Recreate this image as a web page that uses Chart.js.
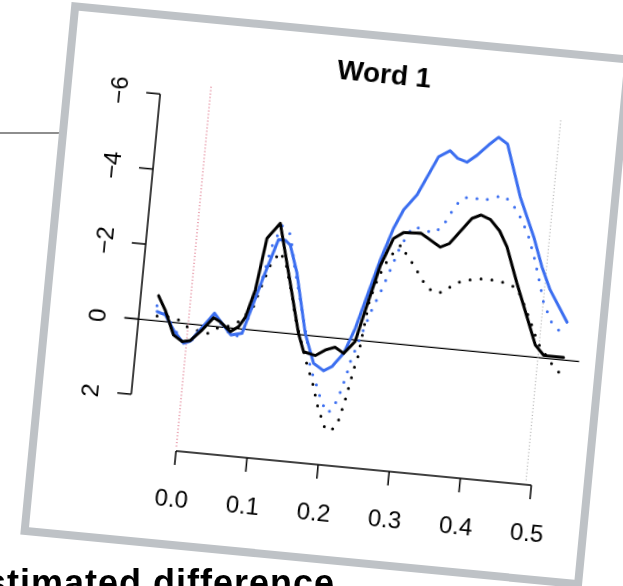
<!DOCTYPE html>
<html>
<head>
<meta charset="utf-8">
<script src="https://cdn.jsdelivr.net/npm/chart.js@4"></script>
<style>
  html, body { margin: 0; padding: 0; background: #fff; }
  body { width: 623px; height: 586px; overflow: hidden; position: relative;
         font-family: "Liberation Sans", Arial, sans-serif; }
  .rule { position: absolute; left: 0; top: 132px; width: 62px; height: 2px; background: #8e8e8e; }
  .sheet { position: absolute; left: 15.7px; top: 1px; width: 600px; height: 560px;
           transform-origin: 160px 450px; transform: rotate(5.5deg); }
  .frame { position: absolute; left: 13px; top: 13px; width: 564px; height: 535px;
           box-sizing: border-box; border: 8px solid #bec2c6; background: #fff; }
  #plot { position: absolute; left: 21px; top: 21px; }
  .caption { position: absolute; right: 288px; top: 565px; font-weight: bold; font-size: 36px;
             line-height: 36px; letter-spacing: 1px; white-space: nowrap; color: #000; }
</style>
</head>
<body>
<div class="rule"></div>
<div class="sheet">
  <div class="frame"></div>
  <canvas id="plot" width="547" height="518"></canvas>
</div>
<div class="caption">Estimated difference</div>
<script>
// Time (s) and estimated difference for each curve
const blackX = [-0.045, -0.034, -0.019, -0.006, 0.005, 0.020, 0.0346, 0.0444, 0.0597, 0.0706, 0.0787, 0.089, 0.0983, 0.1149, 0.1406, 0.155, 0.1646, 0.1815, 0.1946, 0.208, 0.2206, 0.235, 0.2437, 0.26, 0.2748, 0.288, 0.3123, 0.341, 0.3535, 0.3814, 0.3935, 0.407, 0.4216, 0.434, 0.4528, 0.4713, 0.4866, 0.4996, 0.5277];
const blackY = [-0.67, -0.31, 0.33, 0.48, 0.435, 0.125, -0.23, -0.14, 0.096, -0.056, -0.32, -1.07, -2.46, -2.89, -1.07, -0.03, 0.44, 0.51, 0.34, 0.24, 0.38, 0.04, -0.7, -2.03, -2.78, -2.96, -2.99, -2.67, -2.79, -3.51, -3.62, -3.53, -3.25, -2.85, -1.91, -1.05, -0.33, -0.08, -0.07];

const blueX = [-0.045, -0.033, -0.0196, -0.004, 0.005, 0.0353, 0.055, 0.061, 0.0762, 0.0987, 0.1146, 0.124, 0.1318, 0.1448, 0.1644, 0.18, 0.195, 0.206, 0.2206, 0.2335, 0.2592, 0.2735, 0.285, 0.3017, 0.3266, 0.342, 0.3533, 0.367, 0.38, 0.3948, 0.4077, 0.4211, 0.4458, 0.47, 0.4854, 0.5, 0.5279];
const blueY = [-0.25, -0.18, 0.2, 0.52, 0.45, -0.35, 0.06, 0.18, 0.11, -1.44, -2.46, -2.46, -2.34, -1.62, -0.05, 0.72, 0.89, 0.76, 0.38, -0.31, -2.18, -3.05, -3.56, -3.99, -5.05, -5.24, -5.06, -4.98, -5.19, -5.49, -5.72, -5.56, -4.2, -3.18, -2.41, -1.82, -1.01];

const blackDotX = [-0.0445, -0.03, -0.014, 0.0, 0.0276, 0.0397, 0.0544, 0.0686, 0.088, 0.0965, 0.1066, 0.1186, 0.128, 0.1409, 0.148, 0.17, 0.182, 0.192, 0.205, 0.2138, 0.222, 0.229, 0.2377, 0.241, 0.2496, 0.259, 0.2717, 0.281, 0.286, 0.2946, 0.3046, 0.324, 0.336, 0.3504, 0.3626, 0.3763, 0.3919, 0.4071, 0.4237, 0.44, 0.4535, 0.462, 0.4765, 0.4895, 0.51, 0.528];
const blackDotY = [-0.13, -0.15, -0.08, 0.09, 0.21, 0.04, -0.03, -0.17, -0.58, -1.15, -1.76, -2.14, -1.85, -1.03, -0.46, 0.72, 1.28, 1.87, 2.43, 2.45, 2.2, 1.61, 0.7, 0.43, -1.09, -1.73, -2.29, -2.49, -2.63, -2.4, -2.17, -1.67, -1.47, -1.48, -1.68, -1.84, -1.9, -1.95, -1.92, -1.88, -1.78, -1.5, -0.95, -0.4, 0.09, 0.42];

const blueDotX = [-0.046, -0.033, -0.019, -0.005, 0.006, 0.034, 0.056, 0.066, 0.077, 0.0965, 0.106, 0.118, 0.129, 0.134, 0.1406, 0.1567, 0.169, 0.176, 0.185, 0.197, 0.2063, 0.213, 0.2195, 0.228, 0.2303, 0.2542, 0.2655, 0.2755, 0.2853, 0.3003, 0.3155, 0.329, 0.3412, 0.3557, 0.3648, 0.3793, 0.3939, 0.4087, 0.4234, 0.4357, 0.4457, 0.4616, 0.473, 0.483, 0.4924, 0.5071, 0.5186, 0.528];
const blueDotY = [-0.4, -0.2, 0.15, 0.5, 0.45, -0.3, 0.1, 0.22, 0.12, -1.3, -2.25, -2.83, -2.67, -2.35, -1.78, -0.66, 0.21, 0.86, 1.2, 1.75, 2.0, 1.85, 1.54, 0.9, 0.63, -0.85, -1.42, -2.0, -2.58, -3.14, -3.1, -3.02, -3.21, -3.76, -4.01, -4.08, -4.0, -4.12, -4.19, -3.99, -3.76, -3.23, -2.66, -2.07, -1.48, -0.94, -0.76, -0.62];

// Axis ticks and labels
const xTicks = [0, 0.1, 0.2, 0.3, 0.4, 0.5];
const xTickLabels = ['0.0', '0.1', '0.2', '0.3', '0.4', '0.5'];
const yTicks = [-6, -4, -2, 0, 2];
const yTickLabels = ['\u22126', '\u22124', '\u22122', '0', '2'];
const titleText = 'Word 1';

// Word onset / offset markers (s)
const onsetX = 0;
const offsetX = 0.492;

const toPoints = (xs, ys) => xs.map((x, i) => ({ x: x, y: ys[i] }));

const FONT = '"Liberation Sans", Arial, sans-serif';

// R-style detached axes, reference lines and title
const baseAxes = {
  id: 'baseAxes',
  beforeDatasetsDraw(chart) {
    const { ctx, chartArea: a, scales: { x, y } } = chart;
    ctx.save();
    ctx.strokeStyle = '#000';
    ctx.lineWidth = 1.2;
    const y0 = y.getPixelForValue(0);
    ctx.beginPath(); ctx.moveTo(a.left, y0); ctx.lineTo(a.right, y0); ctx.stroke();

    ctx.lineWidth = 1;
    ctx.setLineDash([1, 2.4]);
    ctx.strokeStyle = '#d03a58';
    let px = x.getPixelForValue(onsetX);
    ctx.beginPath(); ctx.moveTo(px, a.top + 3); ctx.lineTo(px, a.bottom); ctx.stroke();
    ctx.strokeStyle = '#9c9c9c';
    px = x.getPixelForValue(offsetX);
    ctx.beginPath(); ctx.moveTo(px, a.top + 3); ctx.lineTo(px, a.bottom); ctx.stroke();
    ctx.restore();
  },
  afterDraw(chart) {
    const { ctx, chartArea: a, scales: { x, y } } = chart;
    const axisX = a.left + 14.3;
    const axisY = a.bottom + 3.2;
    const tick = 14;
    ctx.save();
    ctx.strokeStyle = '#000';
    ctx.fillStyle = '#000';
    ctx.lineWidth = 1.5;

    // bottom axis
    const xl = x.getPixelForValue(xTicks[0]);
    const xr = x.getPixelForValue(xTicks[xTicks.length - 1]);
    ctx.beginPath(); ctx.moveTo(xl, axisY); ctx.lineTo(xr, axisY); ctx.stroke();
    ctx.font = '24px ' + FONT;
    ctx.textAlign = 'center';
    ctx.textBaseline = 'alphabetic';
    xTicks.forEach((v, i) => {
      const px = x.getPixelForValue(v);
      ctx.beginPath(); ctx.moveTo(px, axisY); ctx.lineTo(px, axisY + tick); ctx.stroke();
      ctx.fillText(xTickLabels[i], px, axisY + 56);
    });

    // left axis
    const yt = y.getPixelForValue(yTicks[0]);
    const yb = y.getPixelForValue(yTicks[yTicks.length - 1]);
    ctx.beginPath(); ctx.moveTo(axisX, yt); ctx.lineTo(axisX, yb); ctx.stroke();
    yTicks.forEach((v, i) => {
      const py = y.getPixelForValue(v);
      ctx.beginPath(); ctx.moveTo(axisX, py); ctx.lineTo(axisX - tick, py); ctx.stroke();
      ctx.save();
      ctx.translate(axisX - 33, py);
      ctx.rotate(-Math.PI / 2);
      ctx.fillText(yTickLabels[i], 0, 0);
      ctx.restore();
    });

    // title
    ctx.font = 'bold 28px ' + FONT;
    ctx.fillText(titleText, (a.left + a.right) / 2 + 7, a.top - 17);
    ctx.restore();
  }
};

const solid = (data, color) => ({
  data, borderColor: color, borderWidth: 3, pointRadius: 0, tension: 0,
  borderJoinStyle: 'round', borderCapStyle: 'round', fill: false
});
const dotted = (data, color) => ({
  data, borderColor: color, borderWidth: 3, pointRadius: 0, tension: 0,
  borderDash: [0, 11], borderCapStyle: 'round', fill: false
});

new Chart(document.getElementById('plot'), {
  type: 'line',
  data: {
    datasets: [
      solid(toPoints(blackX, blackY), '#000000'),
      solid(toPoints(blueX, blueY), '#3b6ef0'),
      dotted(toPoints(blackDotX, blackDotY), '#000000'),
      dotted(toPoints(blueDotX, blueDotY), '#3b6ef0')
    ]
  },
  options: {
    responsive: false,
    animation: false,
    devicePixelRatio: 1,
    layout: { padding: { left: 74.74, right: 15.3, top: 60.12, bottom: 92.19 } },
    plugins: { legend: { display: false }, tooltip: { enabled: false }, title: { display: false } },
    scales: {
      x: { type: 'linear', min: -0.09, max: 0.55, display: false },
      y: { type: 'linear', min: -6.4, max: 3.3, reverse: true, display: false }
    }
  },
  plugins: [baseAxes]
});
</script>
</body>
</html>
